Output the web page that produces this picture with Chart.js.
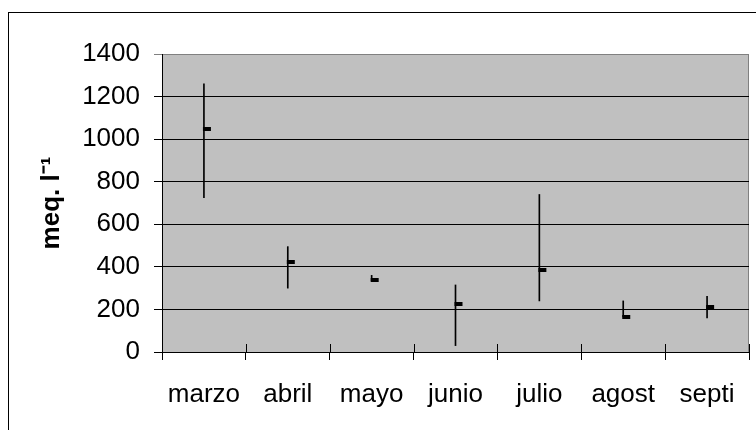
<!DOCTYPE html>
<html lang="es">

<head>
    <meta charset="UTF-8">
    <title>meq. l-1 por mes</title>
    <script src="https://cdn.jsdelivr.net/npm/chart.js"></script>
    <style>
        body { margin: 0; background: #fff; }
        canvas { display: block; }
    </style>
</head>

<body>
    <canvas id="hlcChart" width="756" height="430"></canvas>

    <script>
        // values (high / low / close per month)
        const months = ['marzo', 'abril', 'mayo', 'junio', 'julio', 'agost', 'septi'];
        const highs = [1260, 495, 360, 315, 740, 240, 262];
        const lows = [725, 300, 335, 30, 240, 165, 160];
        const closes = [1050, 422, 340, 226, 385, 166, 210];
        const yTicks = [0, 200, 400, 600, 800, 1000, 1200, 1400];

        const FONT = "'Liberation Sans', Arial, sans-serif";

        // little dash to the right of the high-low line, like an excel close mark
        const closeMark = document.createElement('canvas');
        closeMark.width = 18;
        closeMark.height = 4;
        const cm = closeMark.getContext('2d');
        cm.fillStyle = '#000';
        cm.fillRect(8, 0, 8, 4);

        // frame, gray plot area and the small tick stubs above the x axis
        const framePlugin = {
            id: 'framePlugin',
            beforeDraw(chart) {
                const { ctx, chartArea: a } = chart;
                ctx.save();
                ctx.strokeStyle = '#000';
                ctx.lineWidth = 1;
                ctx.strokeRect(8.5, 12.5, 800, 500);
                ctx.fillStyle = '#c0c0c0';
                ctx.fillRect(a.left, a.top, a.right - a.left, a.bottom - a.top);
                ctx.strokeStyle = '#808080';
                ctx.beginPath();
                ctx.moveTo(a.left, a.top + 0.5);
                ctx.lineTo(a.right - 0.5, a.top + 0.5);
                ctx.lineTo(a.right - 0.5, a.bottom);
                ctx.stroke();
                ctx.restore();
            },
            afterDatasetsDraw(chart) {
                const { ctx, chartArea: a } = chart;
                const x = chart.scales.x;
                ctx.save();
                ctx.strokeStyle = '#000';
                ctx.lineWidth = 1;
                ctx.beginPath();
                for (let i = 0; i <= months.length; i++) {
                    const px = Math.round(x.getPixelForValue(i - 0.5)) + 0.5;
                    ctx.moveTo(px, a.bottom - 8);
                    ctx.lineTo(px, a.bottom);
                }
                ctx.stroke();
                ctx.restore();
            }
        };

        const ctx = document.getElementById('hlcChart').getContext('2d');
        new Chart(ctx, {
            type: 'bar',
            data: {
                labels: months,
                datasets: [{
                    type: 'bar',
                    data: months.map((m, i) => [lows[i], highs[i]]),
                    backgroundColor: '#000',
                    borderWidth: 0,
                    barThickness: 1,
                    order: 2
                }, {
                    type: 'line',
                    data: closes,
                    showLine: false,
                    pointStyle: closeMark,
                    pointRadius: 4,
                    order: 1
                }]
            },
            options: {
                responsive: false,
                animation: false,
                devicePixelRatio: 1,
                layout: { padding: { top: 54, right: 7, left: 0, bottom: 0 } },
                plugins: {
                    legend: { display: false },
                    tooltip: { enabled: false }
                },
                scales: {
                    x: {
                        offset: true,
                        grid: {
                            offset: true,
                            drawOnChartArea: false,
                            tickLength: 8,
                            color: '#000'
                        },
                        border: { color: '#000', width: 1 },
                        ticks: {
                            color: '#000',
                            padding: 19,
                            maxRotation: 0,
                            font: { family: FONT, size: 26 }
                        },
                        afterFit(scale) { scale.height = 78; }
                    },
                    y: {
                        min: 0,
                        max: 1400,
                        afterBuildTicks(scale) {
                            scale.ticks = yTicks.map(v => ({ value: v }));
                        },
                        grid: {
                            tickLength: 8,
                            color: ctx => ctx.tick && ctx.tick.value === 1400 ? '#808080' : '#000'
                        },
                        border: { color: '#000', width: 1 },
                        ticks: {
                            color: '#000',
                            padding: 14,
                            font: { family: FONT, size: 26 },
                            callback: v => String(v)
                        },
                        title: {
                            display: true,
                            text: 'meq. l⁻¹',
                            color: '#000',
                            padding: { top: 36, bottom: 0 },
                            font: { family: FONT, size: 26, weight: 'bold' }
                        },
                        afterFit(scale) { scale.width = 162; }
                    }
                }
            },
            plugins: [framePlugin]
        });
    </script>
</body>

</html>
